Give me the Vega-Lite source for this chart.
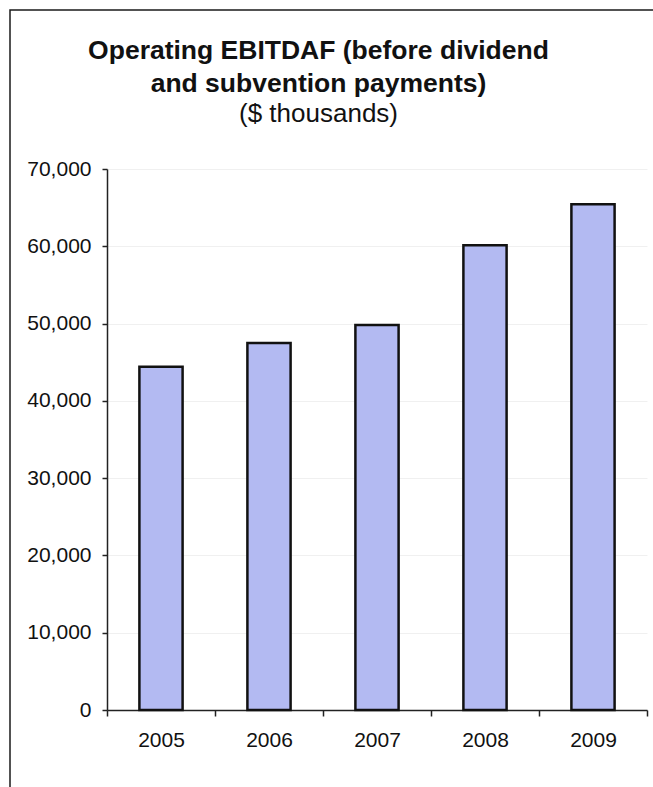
{
  "$schema": "https://vega.github.io/schema/vega-lite/v6.json",
  "autosize": "none",
  "width": 653,
  "height": 787,
  "padding": {"left": 10, "top": 10, "right": -10, "bottom": -10},
  "background": "white",
  "title": {
    "text": ["Operating EBITDAF (before dividend", "and subvention payments)"],
    "subtitle": "($ thousands)",
    "anchor": "middle",
    "frame": "group",
    "orient": "top",
    "dx": -18,
    "offset": -117,
    "font": "Liberation Sans",
    "fontSize": 26.5,
    "fontWeight": "bold",
    "lineHeight": 33,
    "color": "#111111",
    "subtitleFont": "Liberation Sans",
    "subtitleFontSize": 26,
    "subtitleColor": "#111111",
    "subtitlePadding": 4
  },
  "data": {
    "values": [
      {"year": "2005", "ebitdaf": 44400},
      {"year": "2006", "ebitdaf": 47500},
      {"year": "2007", "ebitdaf": 49800},
      {"year": "2008", "ebitdaf": 60150},
      {"year": "2009", "ebitdaf": 65450}
    ]
  },
  "mark": {
    "type": "bar",
    "fill": "#b3baf2",
    "stroke": "#111111",
    "strokeWidth": 2.5,
    "width": {"band": 0.4}
  },
  "encoding": {
    "x": {
      "field": "year",
      "type": "ordinal",
      "scale": {"range": [97, 637], "paddingInner": 0, "paddingOuter": 0},
      "axis": {
        "orient": "bottom",
        "offset": -87,
        "title": null,
        "labelAngle": 0,
        "tickBand": "extent",
        "tickSize": 6,
        "tickColor": "#222222",
        "tickWidth": 1.5,
        "domainColor": "#222222",
        "domainWidth": 1.5,
        "labelFont": "Liberation Sans",
        "labelFontSize": 21,
        "labelColor": "#111111",
        "labelPadding": 13,
        "grid": false
      }
    },
    "y": {
      "field": "ebitdaf",
      "type": "quantitative",
      "scale": {"domain": [0, 70000], "range": [700, 159], "nice": false, "zero": true},
      "axis": {
        "orient": "left",
        "offset": -97,
        "title": null,
        "values": [0, 10000, 20000, 30000, 40000, 50000, 60000, 70000],
        "format": ",.0f",
        "tickSize": 5,
        "tickColor": "#222222",
        "tickWidth": 1.5,
        "domainColor": "#222222",
        "domainWidth": 1.5,
        "labelFont": "Liberation Sans",
        "labelFontSize": 21,
        "labelColor": "#111111",
        "labelPadding": 11,
        "grid": true,
        "gridColor": "#f0f0f0",
        "gridWidth": 1
      }
    }
  },
  "config": {
    "view": {"stroke": "#1a1a1a", "strokeWidth": 1.5, "fill": "white"}
  }
}
